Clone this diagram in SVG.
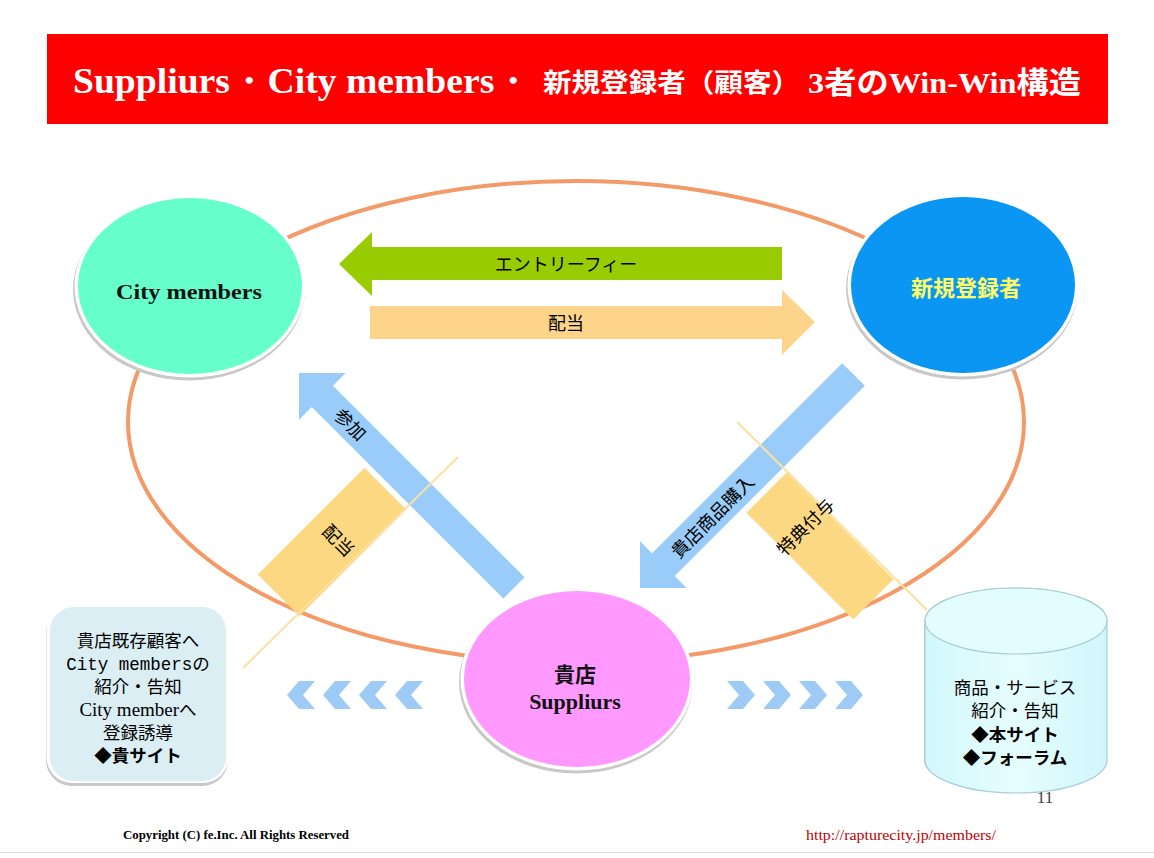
<svg xmlns="http://www.w3.org/2000/svg" width="1154" height="858" viewBox="0 0 1154 858">
<defs>
<style>
.serifb{font-family:"Liberation Serif","DejaVu Serif",serif;font-weight:bold}
.jp{font-family:"Noto Sans CJK JP","Noto Sans",sans-serif}
.lbl{font-family:"Noto Sans CJK JP","Noto Sans",sans-serif;font-size:18px;fill:#000;text-anchor:middle}
.shadow{fill:#C8C8C8}
.halo{fill:#FFFFFF}
.blue{fill:#99CCF8}
.band{fill:#FDD882}
.thin{stroke:#FBE1A0;stroke-width:2;fill:none}
.chev{fill:#9DCBF5}
.box{font-family:"Noto Sans CJK JP","Noto Sans",sans-serif;font-size:17.5px;fill:#000;text-anchor:middle}
</style>
<linearGradient id="cyl" x1="0" y1="0" x2="1" y2="0">
<stop offset="0" stop-color="#D2F8FB"/>
<stop offset="0.5" stop-color="#E6FDFF"/>
<stop offset="1" stop-color="#D0F6FA"/>
</linearGradient>
</defs>
<rect width="1154" height="858" fill="#FFFFFF"/>
<line x1="0" y1="852.5" x2="1154" y2="852.5" stroke="#D8D8D8" stroke-width="1"/>

<g id="title">
<rect x="47" y="34" width="1061" height="90" fill="#FF0000"/>
<text x="73" y="93" class="serifb" font-size="36" fill="#FFFFFF" textLength="459" lengthAdjust="spacingAndGlyphs">Suppliurs・City members・</text>
<text x="543" y="92" class="jp" font-weight="bold" font-size="26" fill="#FFFFFF" textLength="257" lengthAdjust="spacingAndGlyphs">新規登録者（顧客）</text>
<text x="808" y="93" font-family="Liberation Serif,'Noto Sans CJK JP',serif" font-weight="bold" font-size="30" fill="#FFFFFF" textLength="273" lengthAdjust="spacingAndGlyphs">3者のWin-Win構造</text>
</g>

<g id="cycle">
<ellipse cx="576" cy="422" rx="448" ry="241" fill="none" stroke="#F39A68" stroke-width="4"/>
</g>

<g id="connectors">
<path d="M339,264 L372,232 L372,247 L782,247 L782,280 L372,280 L372,296 Z" fill="#99CC00"/>
<text x="566" y="271" class="lbl">エントリーフィー</text>
<path d="M815,322 L782,290 L782,306 L370,306 L370,339 L782,339 L782,355 Z" fill="#FDD48A"/>
<text x="566" y="330" class="lbl">配当</text>

<path class="blue" transform="translate(299,373) rotate(45)" d="M0,0 L33,-33 L33,-15 L304,-15 L304,15 L33,15 L33,33 Z"/>
<text class="lbl" transform="translate(350,425) rotate(45)" y="6">参加</text>

<path class="blue" transform="translate(640,588) rotate(-45)" d="M0,0 L33,-33 L33,-16 L302,-16 L302,16 L33,16 L33,33 Z"/>
<text class="lbl" transform="translate(713,517) rotate(-45)" y="6">貴店商品購入</text>

<rect class="band" x="-75.5" y="-29.5" width="151" height="59" transform="translate(332,542) rotate(-45)"/>
<line class="thin" x1="458" y1="457" x2="243" y2="668"/>
<text class="lbl" transform="translate(338,541) rotate(45)" y="6">配当</text>

<rect class="band" x="-75.5" y="-28.5" width="151" height="57" transform="translate(820,546) rotate(45)"/>
<line class="thin" x1="737" y1="422" x2="927" y2="610"/>
<text class="lbl" transform="translate(806,527) rotate(-45)" y="6">特典付与</text>

<g id="chevrons-left" class="chev">
<path d="M299,681 L315,681 L303,695 L315,709 L299,709 L287,695 Z"/>
<path d="M335,681 L351,681 L339,695 L351,709 L335,709 L323,695 Z"/>
<path d="M371,681 L387,681 L375,695 L387,709 L371,709 L359,695 Z"/>
<path d="M407,681 L423,681 L411,695 L423,709 L407,709 L395,695 Z"/>
</g>
<g id="chevrons-right" class="chev">
<path d="M727,681 L743,681 L755,695 L743,709 L727,709 L739,695 Z"/>
<path d="M763,681 L779,681 L791,695 L779,709 L763,709 L775,695 Z"/>
<path d="M799,681 L815,681 L827,695 L815,709 L799,709 L811,695 Z"/>
<path d="M835,681 L851,681 L863,695 L851,709 L835,709 L847,695 Z"/>
</g>
</g>

<g id="node-city-members">
<ellipse class="shadow" cx="189" cy="289" rx="116" ry="91.5"/>
<ellipse class="halo" cx="190" cy="286" rx="115.5" ry="91.5"/>
<ellipse cx="190" cy="286" rx="112" ry="88" fill="#66FFCC"/>
<text x="189" y="299" class="serifb" font-size="21" fill="#111" text-anchor="middle" textLength="146" lengthAdjust="spacingAndGlyphs">City members</text>
</g>

<g id="node-shinki">
<ellipse class="shadow" cx="962" cy="288" rx="116" ry="91.5"/>
<ellipse class="halo" cx="963" cy="285" rx="115.5" ry="91.5"/>
<ellipse cx="963" cy="285" rx="112" ry="88" fill="#0A96F2"/>
<text x="966" y="296" class="jp" font-weight="bold" font-size="22" fill="#FFFF66" text-anchor="middle">新規登録者</text>
</g>

<g id="node-suppliurs">
<ellipse class="shadow" cx="576" cy="682" rx="117" ry="91.5"/>
<ellipse class="halo" cx="577" cy="679" rx="116.5" ry="91.5"/>
<ellipse cx="577" cy="679" rx="113" ry="88" fill="#FF99FF"/>
<text x="575" y="682" class="jp" font-weight="bold" font-size="21" fill="#111" text-anchor="middle">貴店</text>
<text x="575" y="709" class="serifb" font-size="22" fill="#111" text-anchor="middle">Suppliurs</text>
</g>

<g id="node-left-box">
<rect x="46" y="607" width="182" height="179" rx="26" fill="#C8C8C8"/>
<rect x="46.5" y="604" width="182" height="179" rx="26" fill="#FFFFFF"/>
<rect x="50" y="607" width="176" height="174" rx="24" fill="#DAEEF3"/>
<text x="138" y="647" class="box">貴店既存顧客へ</text>
<text x="138" y="670" class="box" font-size="17"><tspan font-family="'Liberation Mono','DejaVu Sans Mono',monospace">City members</tspan>の</text>
<text x="138" y="693" class="box">紹介・告知</text>
<text x="138" y="716" class="box" font-size="18"><tspan font-family="'Liberation Serif',serif" font-size="19">City member</tspan>へ</text>
<text x="138" y="739" class="box">登録誘導</text>
<text x="138" y="762" class="box" font-weight="bold">◆貴サイト</text>
</g>

<g id="node-cylinder">
<path d="M924,623 L924,763 A92,33.5 0 0 0 1107,763 L1107,623 Z" fill="#CFCFCF"/>
<path d="M925,621 L925,760 A91,33 0 0 0 1107,760 L1107,621 A91,33 0 0 0 925,621 Z" fill="url(#cyl)" stroke="#A9CDD6" stroke-width="1.2"/>
<ellipse cx="1016" cy="621" rx="91" ry="33" fill="#E3FDFF" stroke="#A9CDD6" stroke-width="1.2"/>
<text x="1015" y="694" class="box" font-size="18.5">商品・サービス</text>
<text x="1015" y="717" class="box" font-size="18.5">紹介・告知</text>
<text x="1015" y="741" class="box" font-size="18.5" font-weight="bold">◆本サイト</text>
<text x="1015" y="764" class="box" font-size="18.5" font-weight="bold">◆フォーラム</text>
</g>

<g id="footer">
<text x="1045" y="803" font-family="'Liberation Serif',serif" font-size="17" fill="#404040" text-anchor="middle">11</text>
<text x="123" y="839" class="serifb" font-size="12" fill="#000" textLength="226" lengthAdjust="spacingAndGlyphs">Copyright (C) fe.Inc. All Rights Reserved</text>
<text x="806" y="840" font-family="'Liberation Serif',serif" font-size="14" fill="#C00000" textLength="190" lengthAdjust="spacingAndGlyphs">http://rapturecity.jp/members/</text>
</g>
</svg>
